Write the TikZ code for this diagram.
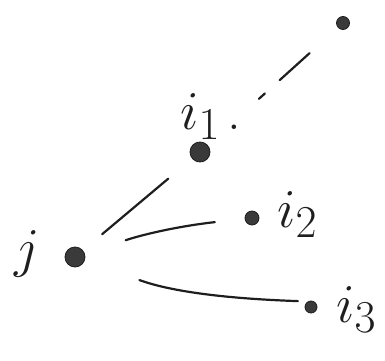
\documentclass[tikz,border=0pt]{standalone}
\usepackage{tikz}
\usepackage{xcolor}
\definecolor{cInk}{HTML}{1E1E1E}
\definecolor{cDot}{HTML}{3A3A3A}
\tikzset{
  vtx/.style={circle, fill=cDot, draw=cInk, line width=0.8pt, inner sep=0pt},
  link/.style={draw=cInk, line width=2.2pt, line cap=round},
  lbl/.style={font=\Huge, scale=2.2, text=cInk, inner sep=0pt,
              anchor=base west},
}

\begin{document}
\begin{tikzpicture}[x=1pt, y=1pt]
\useasboundingbox (0,0) rectangle (385,360);

% ========== VERTICES ==========
\node[vtx, minimum size=20pt] (j) at (75,103) {};
\node[vtx, minimum size=20pt] (i1) at (200,208) {};
\node[vtx, minimum size=14pt] (i2) at (252,142) {};
\node[vtx, minimum size=12pt] (i3) at (311,53) {};
\node[vtx, minimum size=13pt] (far) at (343,337) {};

% labels
\node[lbl, anchor=base] (jL) at (27,94) {$j$};
\node[lbl] (i1L) at (180,231) {$i_1$\hspace{3pt}.};
\node[lbl] (i2L) at (277,133) {$i_2$};
\node[lbl] (i3L) at (336,38) {$i_3$};

% ========== EDGES ==========
\draw[link, shorten <=25pt, shorten >=31pt] (j) -- (i1);
\draw[link, shorten <=43pt, shorten >=30pt] (j) to[bend left=6] (i2);
\draw[link, shorten <=58pt, shorten >=10pt] (j.-18) to[out=-20, in=178] (i3.120);
\draw[link, dash pattern=on 8pt off 20pt on 43pt off 200pt,
      shorten <=69pt, shorten >=38pt] (i1) -- (far);

\end{tikzpicture}
\end{document}
